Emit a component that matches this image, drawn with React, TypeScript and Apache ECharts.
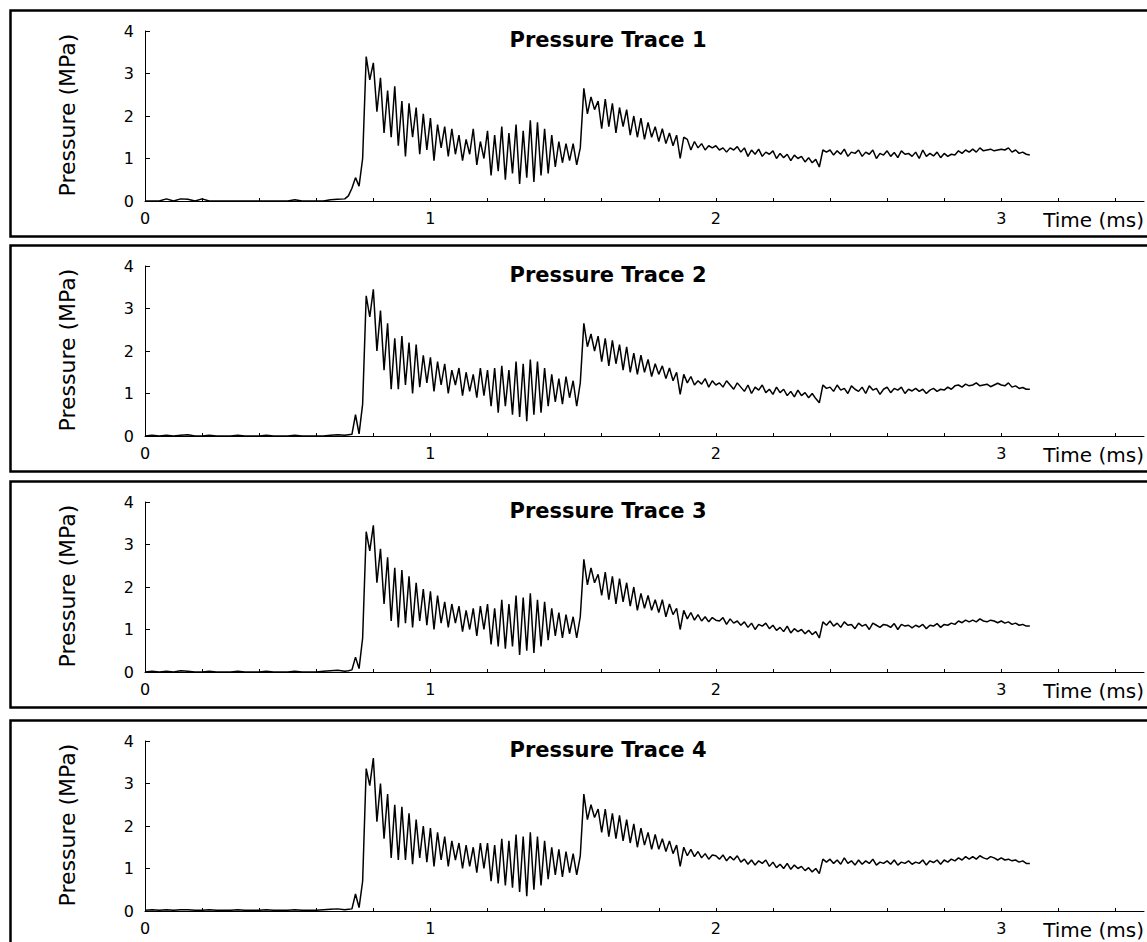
import React, { useEffect, useRef } from "react";
import * as echarts from "echarts";

// ---- Data -------------------------------------------------------------
const TITLES = ["Pressure Trace 1", "Pressure Trace 2", "Pressure Trace 3", "Pressure Trace 4"];
const X_NAME = "Time (ms)";
const Y_NAME = "Pressure (MPa)";
const X_TICKS = [0, 0.2, 0.4, 0.6, 0.8, 1, 1.2, 1.4, 1.6, 1.8, 2, 2.2, 2.4, 2.6, 2.8, 3, 3.2, 3.4];
const X_LABELS = [0, 1, 2, 3];
const Y_TICKS = [0, 1, 2, 3, 4];

// sampling of the recorded traces (ms)
const PRE_STEP = 0.025; // pre-trigger part, starting at 0 ms
const MAIN_START = 0.7; // main part start
const MAIN_STEP = 0.0125;

const pre1 = [0, 0, 0, 0.05, 0, 0.05, 0.04, 0, 0.05, 0, 0, 0, 0, 0, 0, 0, 0, 0, 0, 0, 0, 0.03, 0, 0, 0, 0, 0.03, 0.04];
const pre2 = [0, 0.02, 0, 0.02, 0, 0.02, 0.03, 0, 0, 0.02, 0, 0, 0, 0.02, 0, 0, 0, 0.02, 0, 0, 0, 0.02, 0, 0, 0, 0, 0.02, 0.03];
const pre3 = [0, 0.02, 0, 0.02, 0, 0.03, 0.02, 0, 0, 0.02, 0, 0, 0, 0.02, 0, 0, 0, 0.02, 0, 0, 0, 0.02, 0, 0, 0, 0.02, 0.03, 0.04];
const pre4 = [0.02, 0.03, 0.02, 0.03, 0.02, 0.03, 0.03, 0.02, 0.02, 0.03, 0.02, 0.02, 0.02, 0.03, 0.02, 0.02, 0.02, 0.03, 0.02, 0.02, 0.02, 0.03, 0.02, 0.02, 0.02, 0.03, 0.04, 0.05];

const main1 = [
  0.05, 0.12, 0.3, 0.55, 0.35, 1.0, 3.4, 2.85,
  3.25, 2.1, 2.9, 1.6, 2.6, 1.5, 2.7, 1.3,
  2.35, 1.05, 2.3, 1.5, 2.2, 1.1, 2.05, 1.2,
  1.95, 0.95, 1.8, 1.25, 1.75, 1.05, 1.7, 1.1,
  1.55, 0.95, 1.45, 1.1, 1.7, 0.85, 1.4, 1.0,
  1.65, 0.6, 1.55, 0.7, 1.75, 0.5, 1.6, 0.65,
  1.8, 0.4, 1.65, 0.55, 1.9, 0.45, 1.85, 0.6,
  1.7, 0.65, 1.55, 0.8, 1.4, 0.9, 1.35, 0.95,
  1.35, 0.85, 1.25, 2.65, 2.05, 2.45, 2.15, 2.35,
  1.7, 2.4, 1.75, 2.3, 1.6, 2.2, 1.75, 2.15,
  1.55, 2.0, 1.5, 1.95, 1.45, 1.85, 1.5, 1.75,
  1.4, 1.7, 1.35, 1.6, 1.3, 1.55, 1.0, 1.5,
  1.45, 1.2, 1.4, 1.25, 1.35, 1.2, 1.3, 1.25,
  1.3, 1.2, 1.25, 1.15, 1.25, 1.2, 1.28, 1.15,
  1.25, 1.05, 1.2, 1.1, 1.22, 1.05, 1.15, 1.1,
  1.18, 1.0, 1.12, 1.02, 1.1, 0.95, 1.08, 1.0,
  1.05, 0.92, 1.02, 0.9, 0.98, 0.8, 1.2, 1.15,
  1.2, 1.08, 1.18, 1.1, 1.22, 1.05, 1.15, 1.12,
  1.2, 1.05, 1.15, 1.1, 1.2, 1.0, 1.12, 1.08,
  1.18, 1.05, 1.14, 1.02, 1.18, 1.1, 1.12, 1.05,
  1.15, 1.0, 1.2, 1.05, 1.12, 1.06, 1.15, 1.02,
  1.12, 1.05, 1.1, 1.08, 1.18, 1.12, 1.2, 1.15,
  1.22, 1.15, 1.25, 1.18, 1.2, 1.22, 1.18, 1.2,
  1.22, 1.2, 1.25, 1.15, 1.2, 1.12, 1.15, 1.1,
  1.08,
];

const main2 = [
  0.02, 0.03, 0.04, 0.5, 0.05, 0.75, 3.3, 2.8,
  3.45, 2.0, 2.95, 1.55, 2.65, 1.1, 2.3, 1.1,
  2.35, 1.2, 2.2, 1.0, 2.15, 1.15, 1.9, 1.25,
  1.85, 1.05, 1.75, 1.2, 1.7, 1.0, 1.55, 1.2,
  1.6, 0.95, 1.5, 1.05, 1.45, 0.9, 1.6, 0.95,
  1.55, 0.7, 1.6, 0.55, 1.65, 0.7, 1.55, 0.5,
  1.75, 0.45, 1.7, 0.35, 1.8, 0.5, 1.75, 0.55,
  1.6, 0.7, 1.45, 0.8, 1.35, 0.75, 1.4, 0.9,
  1.3, 0.7, 1.25, 2.65, 2.1, 2.4, 2.0, 2.35,
  1.75, 2.3, 1.65, 2.25, 1.7, 2.15, 1.55, 2.1,
  1.5, 1.95, 1.45, 1.9, 1.5, 1.8, 1.4, 1.7,
  1.45, 1.65, 1.35, 1.6, 1.3, 1.5, 0.98, 1.45,
  1.25, 1.4, 1.2, 1.3, 1.22, 1.35, 1.15, 1.3,
  1.2, 1.25, 1.15, 1.3, 1.2, 1.1, 1.25, 1.15,
  1.05, 1.2, 1.0, 1.15, 1.08, 1.2, 1.02, 1.1,
  0.98, 1.15, 1.02, 1.1, 0.95, 1.05, 0.92, 1.08,
  0.95, 1.02, 0.9, 1.0, 0.88, 0.78, 1.2, 1.12,
  1.15, 1.05, 1.2, 1.08, 1.12, 1.0, 1.18, 1.1,
  1.05, 1.15, 1.0, 1.18, 1.08, 1.12, 0.98, 1.1,
  1.15, 1.02, 1.12, 1.08, 1.15, 1.0, 1.1, 1.06,
  1.12, 1.05, 1.1, 1.0, 1.08, 1.12, 1.05, 1.1,
  1.08, 1.15, 1.1, 1.18, 1.2, 1.15, 1.22, 1.18,
  1.2, 1.25, 1.18, 1.2, 1.22, 1.16, 1.2, 1.24,
  1.2, 1.18, 1.25, 1.15, 1.18, 1.12, 1.14, 1.1,
  1.1,
];

const main3 = [
  0.02, 0.03, 0.05, 0.35, 0.08, 0.8, 3.3, 2.85,
  3.45, 2.1, 2.9, 1.6, 2.7, 1.2, 2.45, 1.05,
  2.4, 1.15, 2.25, 1.05, 2.1, 1.2, 1.95, 1.1,
  1.9, 1.0, 1.8, 1.15, 1.65, 1.05, 1.6, 1.15,
  1.55, 0.95, 1.45, 1.0, 1.5, 0.85, 1.55, 1.0,
  1.6, 0.65, 1.5, 0.6, 1.7, 0.55, 1.6, 0.6,
  1.8, 0.4, 1.75, 0.5, 1.85, 0.45, 1.7, 0.6,
  1.65, 0.75, 1.5, 0.85, 1.4, 0.8, 1.35, 0.9,
  1.3, 0.8, 1.3, 2.65, 2.05, 2.45, 2.1, 2.3,
  1.8, 2.35, 1.7, 2.25, 1.6, 2.2, 1.65, 2.1,
  1.55, 2.0, 1.45, 1.85, 1.5, 1.8, 1.45, 1.7,
  1.4, 1.7, 1.3, 1.6, 1.35, 1.5, 1.0, 1.45,
  1.25, 1.4, 1.22, 1.35, 1.2, 1.3, 1.18, 1.28,
  1.22, 1.2, 1.28, 1.12, 1.25, 1.15, 1.2, 1.1,
  1.18, 1.05, 1.15, 1.0, 1.12, 1.08, 1.15, 1.02,
  1.1, 0.98, 1.05, 0.95, 1.08, 0.92, 1.02, 0.95,
  1.0, 0.9, 0.98, 0.88, 0.95, 0.8, 1.18, 1.1,
  1.2, 1.08, 1.15, 1.05, 1.18, 1.1, 1.12, 1.02,
  1.15, 1.08, 1.12, 1.0, 1.15, 1.1, 1.05, 1.12,
  1.1, 1.05, 1.14, 1.0, 1.12, 1.08, 1.1, 1.04,
  1.1, 1.06, 1.12, 1.02, 1.1, 1.08, 1.14, 1.05,
  1.12, 1.1, 1.15, 1.12, 1.2, 1.16, 1.22, 1.18,
  1.22, 1.18, 1.25, 1.2, 1.18, 1.22, 1.2, 1.16,
  1.2, 1.15, 1.18, 1.12, 1.15, 1.1, 1.12, 1.08,
  1.08,
];

const main4 = [
  0.03, 0.04, 0.05, 0.4, 0.08, 0.7, 3.35, 2.95,
  3.6, 2.1, 3.0, 1.7, 2.75, 1.25, 2.5, 1.2,
  2.45, 1.2, 2.3, 1.1, 2.15, 1.25, 2.0, 1.15,
  1.95, 1.05, 1.85, 1.2, 1.75, 1.05, 1.65, 1.2,
  1.6, 1.0, 1.55, 1.05, 1.5, 0.9, 1.6, 1.0,
  1.6, 0.7, 1.55, 0.65, 1.7, 0.6, 1.65, 0.55,
  1.8, 0.45, 1.75, 0.35, 1.85, 0.5, 1.75, 0.6,
  1.65, 0.75, 1.5, 0.85, 1.45, 0.8, 1.4, 0.9,
  1.35, 0.85, 1.3, 2.75, 2.15, 2.5, 2.2, 2.4,
  1.85, 2.4, 1.75, 2.3, 1.7, 2.25, 1.65, 2.15,
  1.6, 2.05, 1.5, 1.95, 1.55, 1.85, 1.45, 1.8,
  1.45, 1.7, 1.4, 1.65, 1.35, 1.55, 1.05, 1.5,
  1.3, 1.45, 1.28, 1.4, 1.25, 1.35, 1.22, 1.32,
  1.3, 1.22, 1.32, 1.18, 1.28, 1.2, 1.3, 1.15,
  1.22, 1.1, 1.2, 1.08, 1.18, 1.12, 1.2, 1.05,
  1.15, 1.02, 1.1, 1.0, 1.12, 0.98, 1.08, 1.0,
  1.05, 0.95, 1.02, 0.92, 1.0, 0.88, 1.22, 1.15,
  1.22, 1.12, 1.2, 1.1, 1.25, 1.12, 1.18, 1.08,
  1.2, 1.1, 1.18, 1.12, 1.22, 1.08, 1.15, 1.12,
  1.18, 1.1, 1.2, 1.08, 1.15, 1.12, 1.18, 1.1,
  1.15, 1.12, 1.2, 1.08, 1.18, 1.14, 1.2, 1.1,
  1.2, 1.15, 1.22, 1.18, 1.25, 1.2, 1.28, 1.22,
  1.28, 1.22, 1.3, 1.25, 1.22, 1.28, 1.25, 1.2,
  1.25, 1.2, 1.22, 1.18, 1.2, 1.15, 1.18, 1.12,
  1.12,
];

const PRE = [pre1, pre2, pre3, pre4];
const MAIN = [main1, main2, main3, main4];

// ---- Layout -----------------------------------------------------------
const PANEL_TOPS = [10, 245, 481, 720];
const PANEL_H = 226;
const PLOT_LEFT = 145;
const PLOT_W = 999;
const PLOT_TOP_OFF = 21;
const PLOT_H = 170;
const FONT = "DejaVu Sans, Verdana, sans-serif";

function toPairs(pre: number[], main: number[]): number[][] {
  const out: number[][] = [];
  pre.forEach((v, i) => out.push([+(i * PRE_STEP).toFixed(4), v]));
  main.forEach((v, i) => out.push([+(MAIN_START + i * MAIN_STEP).toFixed(4), v]));
  return out;
}

export default function App() {
  const ref = useRef<HTMLDivElement>(null);
  useEffect(() => {
    if (!ref.current) return;
    const chart = echarts.init(ref.current, undefined, { renderer: "svg" });
    const grids: any[] = [];
    const xAxes: any[] = [];
    const yAxes: any[] = [];
    const series: any[] = [];
    const graphics: any[] = [];
    PANEL_TOPS.forEach((top, k) => {
      grids.push({ left: PLOT_LEFT, top: top + PLOT_TOP_OFF, width: PLOT_W, height: PLOT_H });
      xAxes.push({
        gridIndex: k,
        type: "value",
        min: 0,
        max: 3.5,
        interval: 0.2,
        axisLine: { show: true, lineStyle: { color: "#000", width: 1 } },
        axisTick: { show: true, inside: true, length: 3, customValues: X_TICKS, lineStyle: { color: "#000" } },
        axisLabel: {
          customValues: X_LABELS,
          color: "#000",
          fontFamily: FONT,
          fontSize: 16,
          margin: 9,
        },
        splitLine: { show: false },
      });
      yAxes.push({
        gridIndex: k,
        type: "value",
        min: 0,
        max: 4,
        interval: 1,
        axisLine: { show: true, lineStyle: { color: "#000", width: 1 } },
        axisTick: { show: true, inside: true, length: 5, customValues: Y_TICKS, lineStyle: { color: "#000" } },
        axisLabel: { color: "#000", fontFamily: FONT, fontSize: 16, margin: 11 },
        splitLine: { show: false },
      });
      series.push({
        type: "line",
        xAxisIndex: k,
        yAxisIndex: k,
        data: toPairs(PRE[k], MAIN[k]),
        symbol: "none",
        showSymbol: false,
        silent: true,
        lineStyle: { color: "#000", width: 1.5 },
      });
      graphics.push({
        type: "rect",
        shape: { x: 10.5, y: top + 0.5, width: 1160, height: PANEL_H },
        style: { fill: "none", stroke: "#000", lineWidth: 2.5 },
        silent: true,
      });
      graphics.push({
        type: "text",
        x: 608,
        y: top + 30,
        style: {
          text: TITLES[k],
          fill: "#000",
          font: `bold 21px ${FONT}`,
          align: "center",
          verticalAlign: "middle",
        },
      });
      graphics.push({
        type: "text",
        x: 1144,
        y: top + 210,
        style: {
          text: X_NAME,
          fill: "#000",
          font: `20px ${FONT}`,
          align: "right",
          verticalAlign: "middle",
        },
      });
      graphics.push({
        type: "text",
        x: 67,
        y: top + 105,
        rotation: Math.PI / 2,
        style: {
          text: Y_NAME,
          fill: "#000",
          font: `22px ${FONT}`,
          align: "center",
          verticalAlign: "middle",
        },
      });
    });

    chart.setOption({
      animation: false,
      backgroundColor: "#fff",
      grid: grids,
      xAxis: xAxes,
      yAxis: yAxes,
      series,
      graphic: graphics,
    });
    return () => chart.dispose();
  }, []);
  return (
    <div
      ref={ref}
      style={{ position: "fixed", left: 0, top: 0, width: 1147, height: 942, background: "#fff" }}
    />
  );
}
